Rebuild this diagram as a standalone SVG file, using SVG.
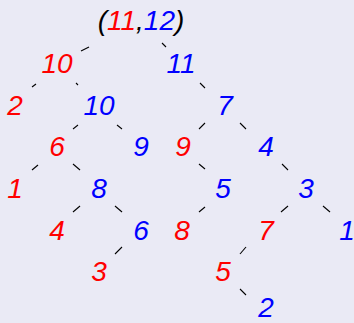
<svg xmlns="http://www.w3.org/2000/svg" width="354" height="323" viewBox="0 0 354 323">
<style>
text{font-family:"Liberation Sans",Arial,sans-serif;font-style:italic;font-size:28px;text-anchor:middle}
.r{fill:#ff0000}.b{fill:#0000ff}.k{fill:#000}
#edges line{stroke:#000;stroke-width:1.1}
</style>
<rect width="354" height="323" fill="#eaeaf5"/>
<g id="edges">
<line x1="81" y1="51" x2="89" y2="47"/>
<line x1="162" y1="43" x2="166" y2="47"/>
<line x1="32" y1="87" x2="36" y2="84"/>
<line x1="76" y1="83" x2="78" y2="85"/>
<line x1="73" y1="129" x2="78" y2="125"/>
<line x1="117" y1="125" x2="122" y2="129"/>
<line x1="200" y1="83" x2="205" y2="88"/>
<line x1="199" y1="129" x2="205" y2="123"/>
<line x1="240" y1="123" x2="246" y2="129"/>
<line x1="32" y1="170" x2="38" y2="165"/>
<line x1="73" y1="164" x2="80" y2="170"/>
<line x1="199" y1="164" x2="205" y2="169"/>
<line x1="282" y1="164" x2="288" y2="170"/>
<line x1="73" y1="212" x2="80" y2="206"/>
<line x1="115" y1="206" x2="122" y2="212"/>
<line x1="199" y1="212" x2="205" y2="207"/>
<line x1="281" y1="212" x2="288" y2="206"/>
<line x1="323" y1="206" x2="330" y2="212"/>
<line x1="115" y1="254" x2="122" y2="247"/>
<line x1="240" y1="254" x2="246" y2="247"/>
<line x1="240" y1="289" x2="246" y2="295"/>
</g>
<g id="root"><text x="141" y="30"><tspan class="k">(</tspan><tspan class="r">11</tspan><tspan class="k">,</tspan><tspan class="b">12</tspan><tspan class="k">)</tspan></text></g>
<g id="n10r"><text class="r" x="57" y="73">10</text></g>
<g id="n11b"><text class="b" x="181" y="73">11</text></g>
<g id="n2r"><text class="r" x="15" y="115">2</text></g>
<g id="n10b"><text class="b" x="99" y="115">10</text></g>
<g id="n7b"><text class="b" x="225" y="115">7</text></g>
<g id="n6r"><text class="r" x="57" y="156">6</text></g>
<g id="n9b"><text class="b" x="141" y="156">9</text></g>
<g id="n9r"><text class="r" x="183" y="156">9</text></g>
<g id="n4b"><text class="b" x="266" y="156">4</text></g>
<g id="n1r"><text class="r" x="15" y="198">1</text></g>
<g id="n8b"><text class="b" x="99" y="198">8</text></g>
<g id="n5b"><text class="b" x="223" y="198">5</text></g>
<g id="n3b"><text class="b" x="306" y="198">3</text></g>
<g id="n4r"><text class="r" x="57" y="240">4</text></g>
<g id="n6b"><text class="b" x="141" y="240">6</text></g>
<g id="n8r"><text class="r" x="182" y="240">8</text></g>
<g id="n7r"><text class="r" x="266" y="240">7</text></g>
<g id="n1b"><text class="b" x="347" y="240">1</text></g>
<g id="n3r"><text class="r" x="99" y="281">3</text></g>
<g id="n5r"><text class="r" x="223" y="281">5</text></g>
<g id="n2b"><text class="b" x="266" y="317">2</text></g>
</svg>
